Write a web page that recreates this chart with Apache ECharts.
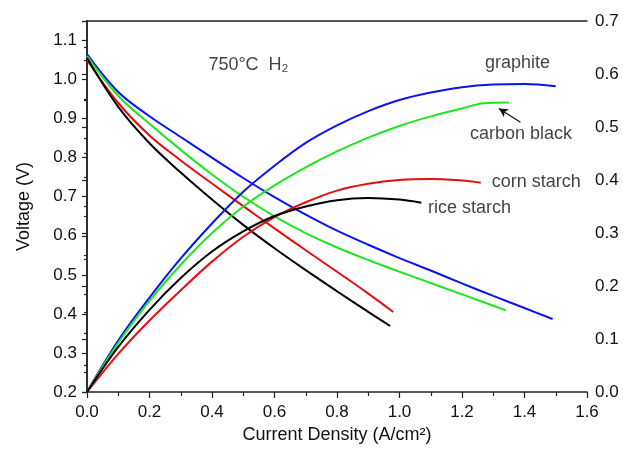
<!DOCTYPE html>
<html><head><meta charset="utf-8">
<script src="https://cdn.jsdelivr.net/npm/echarts@6/dist/echarts.min.js"></script>
<style>html,body{margin:0;padding:0;background:#fff}#c{width:623px;height:454px}</style>
</head><body><div id="c"></div>
<script>
// Current density (A/cm2) and voltage (V) / power density (W/cm2)
const graphiteVoltX = [0,0.1,0.2,0.3,0.4,0.5,0.6,0.7,0.8,0.9,1.0,1.1,1.2,1.3,1.4,1.49];
const graphiteVolt  = [1.065,0.968,0.906,0.853,0.8,0.748,0.699,0.654,0.613,0.577,0.543,0.511,0.478,0.446,0.415,0.387];
const graphitePowX  = [0,0.1,0.2,0.3,0.4,0.5,0.6,0.7,0.8,0.9,1.0,1.1,1.2,1.3,1.4,1.5];
const graphitePow   = [0,0.097,0.178,0.252,0.318,0.378,0.427,0.47,0.503,0.53,0.551,0.565,0.575,0.58,0.581,0.577];

const carbonVoltX = [0,0.1,0.2,0.3,0.4,0.5,0.6,0.7,0.8,0.9,1.0,1.1,1.2,1.3,1.34];
const carbonVolt  = [1.06,0.958,0.887,0.82,0.757,0.7,0.65,0.607,0.57,0.538,0.508,0.479,0.45,0.421,0.409];
const carbonPowX  = [0,0.1,0.2,0.3,0.4,0.5,0.6,0.7,0.8,0.9,1.0,1.1,1.2,1.27,1.35];
const carbonPow   = [0,0.093,0.172,0.24,0.3,0.35,0.39,0.424,0.454,0.48,0.502,0.52,0.535,0.545,0.546];

const cornVoltX = [0,0.1,0.2,0.3,0.4,0.5,0.6,0.7,0.8,0.9,0.98];
const cornVolt  = [1.05,0.94,0.857,0.793,0.734,0.676,0.619,0.563,0.508,0.452,0.405];
const cornPowX  = [0,0.1,0.2,0.3,0.4,0.5,0.6,0.7,0.8,0.9,1.0,1.1,1.2,1.26];
const cornPow   = [0,0.072,0.135,0.192,0.246,0.293,0.33,0.358,0.38,0.393,0.4,0.402,0.399,0.395];

const riceVoltX = [0,0.1,0.2,0.3,0.4,0.5,0.6,0.7,0.8,0.9,0.97];
const riceVolt  = [1.055,0.93,0.837,0.762,0.693,0.628,0.568,0.512,0.458,0.405,0.369];
const ricePowX  = [0,0.1,0.2,0.3,0.4,0.5,0.6,0.7,0.8,0.9,1.0,1.07];
const ricePow   = [0,0.085,0.155,0.215,0.265,0.303,0.332,0.35,0.362,0.366,0.363,0.357];

// Annotation texts with their anchor (x, voltage)
const noteTexts = ['750°C  H₂','graphite','carbon black','corn starch','rice starch'];
const noteX     = [0.39, 1.275, 1.227, 1.297, 1.093];
const noteV     = [1.036, 1.042, 0.86, 0.736, 0.67];
const arrowFrom = [1.387, 0.891];
const arrowTo   = [1.318, 0.926];

const FONT = "'Liberation Sans', Arial, sans-serif";
const AX = '#222';
const pairs = (xs, ys) => xs.map((x, i) => [x, ys[i]]);

function line(name, xs, ys, color, yIdx) {
  return {
    name, type: 'line', yAxisIndex: yIdx, data: pairs(xs, ys),
    showSymbol: false, smooth: 0.35, silent: true,
    lineStyle: { color, width: 2 }, itemStyle: { color }
  };
}
const oneDec = v => (Math.abs(v * 10 - Math.round(v * 10)) < 1e-6 ? v.toFixed(1) : '');
const tickStyle = { color: AX, width: 1.2 };

const chart = echarts.init(document.getElementById('c'), null, { renderer: 'canvas' });
chart.setOption({
  animation: false,
  backgroundColor: '#fff',
  textStyle: { fontFamily: FONT },
  grid: { left: 87, right: 36, top: 21, bottom: 62 },
  xAxis: [{
    type: 'value', min: 0, max: 1.6, interval: 0.2,
    name: 'Current Density (A/cm²)', nameLocation: 'middle', nameGap: 33,
    nameTextStyle: { fontSize: 18, color: '#111', fontFamily: FONT },
    axisLine: { show: true, lineStyle: { color: AX, width: 1.5 } },
    axisTick: { show: true, inside: false, length: 6, lineStyle: tickStyle },
    minorTick: { show: true, splitNumber: 2, length: 4, lineStyle: tickStyle },
    axisLabel: { fontSize: 17, color: '#111', margin: 12, formatter: oneDec, fontFamily: FONT },
    splitLine: { show: false }
  }, {
    type: 'value', min: 0, max: 1.6, position: 'top',
    axisLine: { show: true, lineStyle: { color: AX, width: 1.5 } },
    axisTick: { show: false }, axisLabel: { show: false }, splitLine: { show: false }
  }],
  yAxis: [{
    type: 'value', min: 0.2, max: 1.15, interval: 0.1, position: 'left',
    name: 'Voltage (V)', nameLocation: 'middle', nameGap: 54,
    nameTextStyle: { fontSize: 18, color: '#111', fontFamily: FONT },
    axisLine: { show: true, lineStyle: { color: AX, width: 1.5 } },
    axisTick: { show: true, inside: false, length: 5, lineStyle: tickStyle },
    minorTick: { show: true, splitNumber: 2, length: 3, lineStyle: tickStyle },
    axisLabel: { fontSize: 17, color: '#111', margin: 10, formatter: oneDec, showMaxLabel: false, fontFamily: FONT },
    splitLine: { show: false }
  }, {
    type: 'value', min: 0, max: 0.7, interval: 0.1, position: 'right',
    axisLine: { show: true, lineStyle: { color: AX, width: 1.5 } },
    axisTick: { show: true, inside: true, length: 5, lineStyle: tickStyle },
    minorTick: { show: true, splitNumber: 2, length: 3, lineStyle: tickStyle },
    axisLabel: { fontSize: 17, color: '#111', margin: 8, formatter: oneDec, fontFamily: FONT },
    splitLine: { show: false }
  }],
  series: [
    line('graphite V', graphiteVoltX, graphiteVolt, '#0a14f0', 0),
    line('carbon black V', carbonVoltX, carbonVolt, '#1ee61e', 0),
    line('corn starch V', cornVoltX, cornVolt, '#e80c0c', 0),
    line('rice starch V', riceVoltX, riceVolt, '#000000', 0),
    line('graphite P', graphitePowX, graphitePow, '#0a14f0', 1),
    line('carbon black P', carbonPowX, carbonPow, '#1ee61e', 1),
    line('corn starch P', cornPowX, cornPow, '#e80c0c', 1),
    line('rice starch P', ricePowX, ricePow, '#000000', 1),
    {
      name: 'notes', type: 'scatter', yAxisIndex: 0, silent: true,
      symbolSize: 1, itemStyle: { color: 'rgba(0,0,0,0)' },
      data: noteTexts.map((t, i) => ({ value: [noteX[i], noteV[i]], name: t })),
      label: {
        show: true, position: [0, 0], align: 'left', verticalAlign: 'middle',
        formatter: p => p.name, fontSize: 18, color: '#111', fontFamily: FONT
      },
      markLine: {
        silent: true, symbol: ['none', 'arrow'], symbolSize: [7, 9],
        label: { show: false },
        lineStyle: { color: '#111', width: 1.2, type: 'solid' },
        data: [[{ coord: arrowFrom }, { coord: arrowTo }]]
      }
    }
  ]
});
</script>
</body></html>
